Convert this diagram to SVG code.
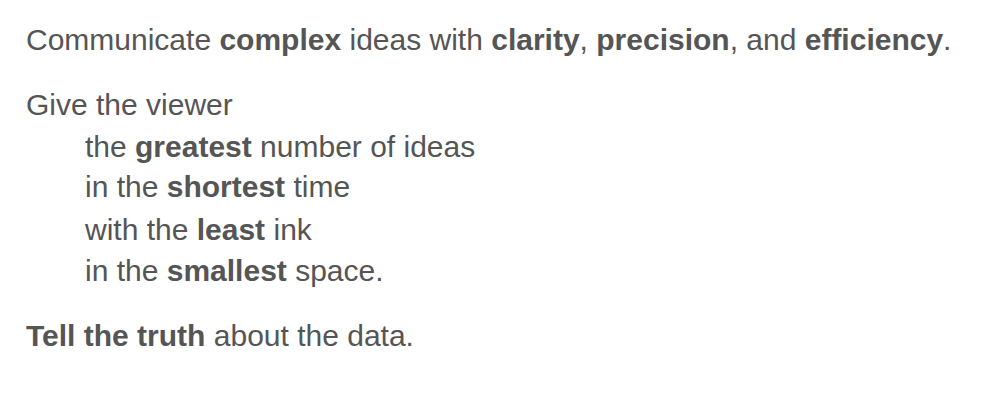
<svg xmlns="http://www.w3.org/2000/svg" width="998" height="408" viewBox="0 0 998 408">
<style>
text{font-family:"Liberation Sans",Arial,sans-serif;font-size:30px;fill:#555555}
.b{font-weight:bold}
</style>
<rect width="998" height="408" fill="#ffffff"/>
<g id="text">
<text x="26" y="50">Communicate <tspan class="b">complex</tspan> ideas with <tspan class="b">clarity</tspan>, <tspan class="b">precision</tspan>, and <tspan class="b">efficiency</tspan>.</text>
<text x="26" y="115">Give the viewer</text>
<text x="85" y="157">the <tspan class="b">greatest</tspan> number of ideas</text>
<text x="85" y="197">in the <tspan class="b">shortest</tspan> time</text>
<text x="85" y="240">with the <tspan class="b">least</tspan> ink</text>
<text x="85" y="281">in the <tspan class="b">smallest</tspan> space.</text>
<text x="26" y="346"><tspan class="b">Tell the truth</tspan> about the data.</text>
</g>
</svg>
